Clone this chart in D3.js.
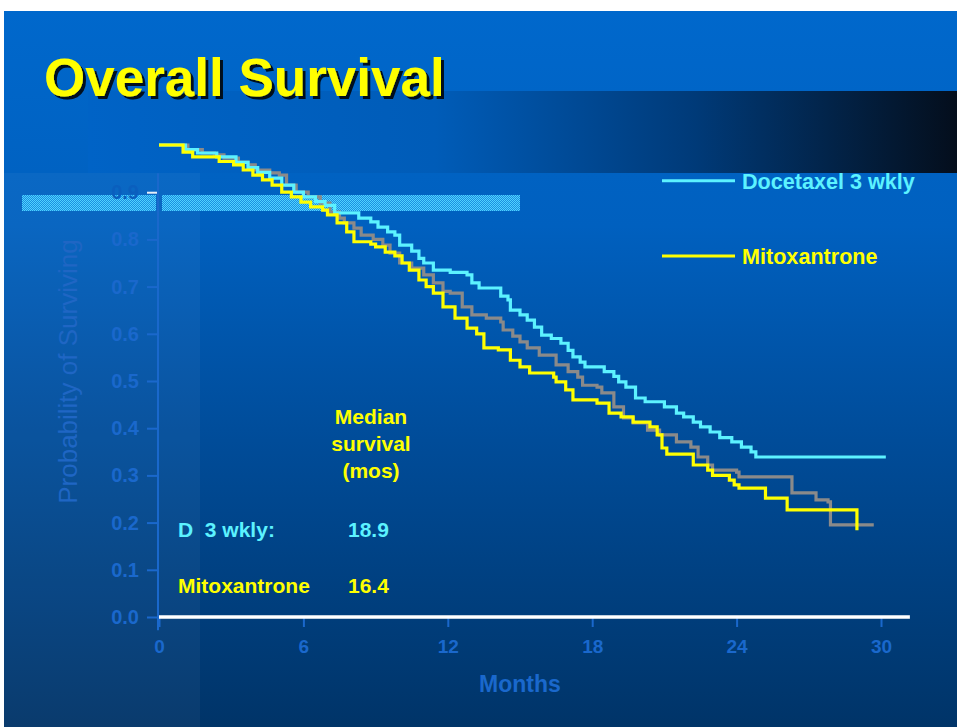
<!DOCTYPE html>
<html><head><meta charset="utf-8">
<script src="https://cdn.jsdelivr.net/npm/d3@7"></script>
<style>html,body{margin:0;padding:0;background:#fff;overflow:hidden}</style>
</head><body><svg id="c" width="957" height="727"></svg>
<script>
// ---------- data ----------
const titleText = "Overall Survival";
const xTickValues = [0, 6, 12, 18, 24, 30];
const yTickValues = [0, 0.1, 0.2, 0.3, 0.4, 0.5, 0.6, 0.7, 0.8, 0.9];
const xLabel = "Months";
const yLabel = "Probability of Surviving";

// Docetaxel 3 wkly (cyan)
const docMonths = [0,1.1,1.6,2.4,3.2,3.7,4.1,4.6,5.1,5.6,6.0,6.5,6.9,7.3,8.3,8.8,9.1,9.5,9.8,10.0,10.5,10.8,11.0,11.4,12.1,12.8,13.0,13.3,14.2,14.5,14.6,15.0,15.3,15.6,15.9,16.3,16.7,17.0,17.2,17.5,17.7,18.5,18.9,19.1,19.4,19.8,20.2,21.0,21.5,21.8,22.2,22.5,22.9,23.3,23.8,24.2,24.6,24.8,30.2];
const docSurv   = [1.0,0.99,0.983,0.975,0.963,0.952,0.942,0.93,0.915,0.90,0.89,0.88,0.872,0.856,0.845,0.837,0.826,0.816,0.809,0.788,0.775,0.76,0.75,0.735,0.73,0.725,0.708,0.697,0.68,0.672,0.65,0.64,0.629,0.614,0.597,0.59,0.58,0.565,0.551,0.54,0.53,0.52,0.51,0.498,0.487,0.464,0.456,0.445,0.432,0.424,0.413,0.403,0.392,0.38,0.371,0.36,0.35,0.339,0.339];

// Mitoxantrone (yellow)
const mitoMonths = [0,1.0,1.4,2.5,3.1,3.5,3.9,4.3,4.7,5.1,5.5,5.9,6.3,6.8,7.0,7.4,7.8,8.1,8.8,9.0,9.4,9.8,10.1,10.4,10.8,11.1,11.4,11.8,12.3,12.8,13.2,13.5,14.1,14.6,15.0,15.4,16.4,16.5,16.9,17.2,18.2,18.7,19.2,19.7,20.4,20.7,20.9,21.1,22.2,22.8,23.0,23.7,23.9,24.1,25.2,26.1,29.0];
const mitoSurv   = [1.0,0.985,0.975,0.965,0.958,0.947,0.936,0.926,0.915,0.90,0.89,0.879,0.869,0.862,0.852,0.835,0.816,0.795,0.79,0.784,0.773,0.765,0.75,0.735,0.714,0.70,0.686,0.657,0.633,0.612,0.60,0.57,0.566,0.544,0.53,0.517,0.508,0.498,0.481,0.46,0.453,0.432,0.424,0.413,0.403,0.386,0.358,0.345,0.322,0.311,0.30,0.29,0.28,0.273,0.252,0.227,0.184];

// third arm (grey, not in legend)
const greyMonths = [0,1.2,1.8,2.3,2.7,3.3,3.7,4.0,4.6,5.0,5.3,5.7,6.2,6.7,7.1,7.5,7.7,8.1,8.4,8.9,9.3,9.6,10.0,10.5,11.0,11.4,11.8,12.1,12.6,13.0,13.6,14.2,14.3,14.7,15.0,15.3,15.8,16.5,17.0,17.4,17.6,18.2,18.4,18.9,19.3,19.7,20.3,20.8,21.5,22.1,22.4,22.8,23.0,24.0,24.1,26.3,27.3,27.8,27.9,29.7];
const greySurv   = [1.0,0.99,0.983,0.979,0.972,0.964,0.958,0.947,0.941,0.936,0.915,0.90,0.89,0.877,0.858,0.845,0.835,0.824,0.809,0.80,0.788,0.771,0.75,0.739,0.725,0.708,0.69,0.686,0.657,0.64,0.633,0.625,0.608,0.595,0.583,0.57,0.555,0.534,0.52,0.508,0.491,0.487,0.475,0.445,0.422,0.411,0.396,0.386,0.371,0.36,0.339,0.322,0.311,0.307,0.297,0.263,0.248,0.244,0.195,0.195];

const legendNames = ["Docetaxel 3 wkly", "Mitoxantrone"];
const medianHeader = ["Median", "survival", "(mos)"];
const medianNames = ["D  3 wkly:", "Mitoxantrone"];
const medianValues = ["18.9", "16.4"];

// ---------- drawing ----------
const FONT = "'Liberation Sans', Arial, Helvetica, sans-serif";
const svg = d3.select("#c");
const defs = svg.append("defs");

const bg = defs.append("linearGradient").attr("id","bg").attr("x1",0).attr("y1",0).attr("x2",0).attr("y2",1);
[[0,"#0068cc"],[0.3,"#0060bf"],[0.6,"#004c99"],[1,"#003468"]].forEach(s=>bg.append("stop").attr("offset",s[0]).attr("stop-color",s[1]));

const band = defs.append("linearGradient").attr("id","band").attr("x1",0).attr("y1",0).attr("x2",1).attr("y2",0);
[[0,"#0063c6"],[0.4,"#005cb8"],[0.7,"#003a78"],[1,"#040e1c"]].forEach(s=>band.append("stop").attr("offset",s[0]).attr("stop-color",s[1]));

const pat = defs.append("pattern").attr("id","chk").attr("width",2).attr("height",2).attr("patternUnits","userSpaceOnUse");
pat.append("rect").attr("width",2).attr("height",2).attr("fill","#1c8fe0");
pat.append("rect").attr("width",1).attr("height",1).attr("fill","#4fd2ff");
pat.append("rect").attr("x",1).attr("y",1).attr("width",1).attr("height",1).attr("fill","#4fd2ff");

const shadow = defs.append("filter").attr("id","sh").attr("x","-5%").attr("y","-5%").attr("width","115%").attr("height","125%");
shadow.append("feDropShadow").attr("dx",3).attr("dy",3).attr("stdDeviation",0.6).attr("flood-color","#000").attr("flood-opacity",0.85);

// slide background
svg.append("rect").attr("x",4).attr("y",11).attr("width",953).attr("height",716).attr("fill","url(#bg)");
svg.append("rect").attr("x",88).attr("y",91).attr("width",869).attr("height",82).attr("fill","url(#band)");
svg.append("rect").attr("x",4).attr("y",173).attr("width",196).attr("height",554).attr("fill","#ffffff").attr("opacity",0.04);

// scales
const x = d3.scaleLinear().domain([0,30]).range([159,881]);
const y = d3.scaleLinear().domain([0,1]).range([617,145]);

// checkered highlight bar (around 0.9 level)
svg.append("rect").attr("x",22).attr("y",195).attr("width",134).attr("height",16).attr("fill","url(#chk)");
svg.append("rect").attr("x",162).attr("y",195).attr("width",358).attr("height",16).attr("fill","url(#chk)");

// title
svg.append("text").attr("x",44).attr("y",96).text(titleText)
  .attr("font-family",FONT).attr("font-weight","bold").attr("font-size",53)
  .attr("fill","#ffff00").attr("filter","url(#sh)");

const axisBlue = "#1a68cc";

// y axis
const yAxis = d3.axisLeft(y).tickValues(yTickValues).tickFormat(d3.format(".1f")).tickSize(11).tickSizeOuter(0).tickPadding(8);
const gy = svg.append("g").attr("transform",`translate(${x(0)-1},0)`).call(yAxis);
gy.select(".domain").remove();
gy.selectAll(".tick line").attr("stroke",d=>d===0.9?"#e8eef8":axisBlue).attr("stroke-width",2);
gy.selectAll(".tick text").attr("fill",d=>d===0.9?"#0a5fbe":axisBlue).attr("font-family",FONT)
  .attr("font-weight","bold").attr("font-size",20);
svg.append("line").attr("x1",x(0)-1).attr("x2",x(0)-1).attr("y1",y(0.94)).attr("y2",y(-0.028))
  .attr("stroke",axisBlue).attr("stroke-width",2);

svg.append("text").attr("transform",`translate(77,${y(0.52)}) rotate(-90)`).attr("text-anchor","middle")
  .text(yLabel).attr("font-family",FONT).attr("font-size",26).attr("fill","#1f66c4");

// x axis
const xAxis = d3.axisBottom(x).tickValues(xTickValues).tickSize(10).tickSizeOuter(0).tickPadding(13);
const gx = svg.append("g").attr("transform",`translate(0,${y(0)})`).call(xAxis);
gx.select(".domain").remove();
gx.selectAll(".tick line").attr("stroke",axisBlue).attr("stroke-width",2);
gx.selectAll(".tick text").attr("fill",axisBlue).attr("font-family",FONT).attr("font-weight","bold").attr("font-size",19);
svg.append("line").attr("x1",x(0)).attr("x2",x(31.2)).attr("y1",y(0)).attr("y2",y(0))
  .attr("stroke","#ffffff").attr("stroke-width",3.5);
svg.append("text").attr("x",x(15)).attr("y",692).attr("text-anchor","middle").text(xLabel)
  .attr("font-family",FONT).attr("font-weight","bold").attr("font-size",23).attr("fill",axisBlue);

// curves
const line = d3.line().x(d=>x(d[0])).y(d=>y(d[1])).curve(d3.curveStepAfter);
const series = [
  {m: greyMonths, s: greySurv, color: "#8a8a8a"},
  {m: docMonths,  s: docSurv,  color: "#5cf2ff"},
  {m: mitoMonths, s: mitoSurv, color: "#ffff00"}
];
series.forEach(sr=>{
  const pts = sr.m.map((m,i)=>[m, sr.s[i]]);
  svg.append("path").attr("d",line(pts)).attr("fill","none").attr("stroke",sr.color)
    .attr("stroke-width",3.2).attr("stroke-linejoin","miter");
});

// legend
const legColors = ["#5cf2ff","#ffff00"];
const legY = [y(0.924), y(0.765)];
legendNames.forEach((n,i)=>{
  svg.append("line").attr("x1",662).attr("x2",735).attr("y1",legY[i]).attr("y2",legY[i])
    .attr("stroke",legColors[i]).attr("stroke-width",3);
  svg.append("text").attr("x",742).attr("y",legY[i]+8).text(n).attr("font-family",FONT)
    .attr("font-weight","bold").attr("font-size",21.6).attr("fill",legColors[i]);
});

// median survival annotation
medianHeader.forEach((t,i)=>{
  svg.append("text").attr("x",371).attr("y",424+i*27).attr("text-anchor","middle").text(t)
    .attr("font-family",FONT).attr("font-weight","bold").attr("font-size",21).attr("fill","#ffff00");
});
const medColors = ["#5cf2ff","#ffff00"];
medianNames.forEach((t,i)=>{
  svg.append("text").attr("x",178).attr("y",537+i*56).text(t).attr("xml:space","preserve").style("white-space","pre")
    .attr("font-family",FONT).attr("font-weight","bold").attr("font-size",21).attr("fill",medColors[i]);
  svg.append("text").attr("x",348).attr("y",537+i*56).text(medianValues[i])
    .attr("font-family",FONT).attr("font-weight","bold").attr("font-size",21).attr("fill",medColors[i]);
});
</script>
</body></html>
